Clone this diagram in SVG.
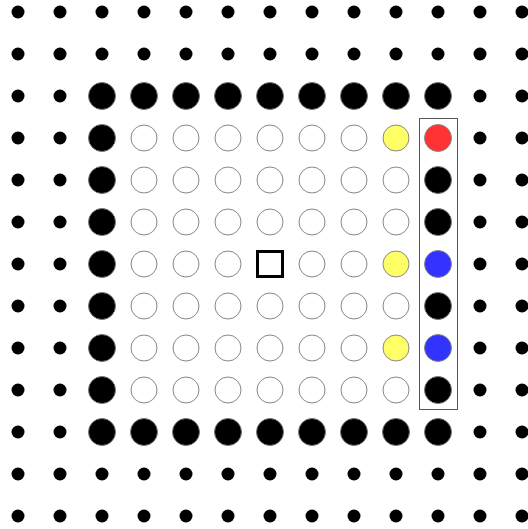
<svg xmlns="http://www.w3.org/2000/svg" width="528" height="529" viewBox="0 0 528 529">
<style>
.s{fill:#000}
.b{fill:#000;stroke:#777;stroke-width:1}
.w{fill:#fff;stroke:#888;stroke-width:1}
.y{fill:#ffff66;stroke:#888;stroke-width:1}
.r{fill:#ff3333;stroke:#888;stroke-width:1}
.u{fill:#3333ff;stroke:#888;stroke-width:1}
</style>
<rect width="528" height="529" fill="#fff"/>
<g id="small-dots">
<circle class="s" cx="18" cy="12" r="6.5"/><circle class="s" cx="60" cy="12" r="6.5"/><circle class="s" cx="102" cy="12" r="6.5"/><circle class="s" cx="144" cy="12" r="6.5"/><circle class="s" cx="186" cy="12" r="6.5"/><circle class="s" cx="228" cy="12" r="6.5"/><circle class="s" cx="270" cy="12" r="6.5"/><circle class="s" cx="312" cy="12" r="6.5"/><circle class="s" cx="354" cy="12" r="6.5"/><circle class="s" cx="396" cy="12" r="6.5"/><circle class="s" cx="438" cy="12" r="6.5"/><circle class="s" cx="480" cy="12" r="6.5"/><circle class="s" cx="522" cy="12" r="6.5"/>
<circle class="s" cx="18" cy="54" r="6.5"/><circle class="s" cx="60" cy="54" r="6.5"/><circle class="s" cx="102" cy="54" r="6.5"/><circle class="s" cx="144" cy="54" r="6.5"/><circle class="s" cx="186" cy="54" r="6.5"/><circle class="s" cx="228" cy="54" r="6.5"/><circle class="s" cx="270" cy="54" r="6.5"/><circle class="s" cx="312" cy="54" r="6.5"/><circle class="s" cx="354" cy="54" r="6.5"/><circle class="s" cx="396" cy="54" r="6.5"/><circle class="s" cx="438" cy="54" r="6.5"/><circle class="s" cx="480" cy="54" r="6.5"/><circle class="s" cx="522" cy="54" r="6.5"/>
<circle class="s" cx="18" cy="474" r="6.5"/><circle class="s" cx="60" cy="474" r="6.5"/><circle class="s" cx="102" cy="474" r="6.5"/><circle class="s" cx="144" cy="474" r="6.5"/><circle class="s" cx="186" cy="474" r="6.5"/><circle class="s" cx="228" cy="474" r="6.5"/><circle class="s" cx="270" cy="474" r="6.5"/><circle class="s" cx="312" cy="474" r="6.5"/><circle class="s" cx="354" cy="474" r="6.5"/><circle class="s" cx="396" cy="474" r="6.5"/><circle class="s" cx="438" cy="474" r="6.5"/><circle class="s" cx="480" cy="474" r="6.5"/><circle class="s" cx="522" cy="474" r="6.5"/>
<circle class="s" cx="18" cy="516" r="6.5"/><circle class="s" cx="60" cy="516" r="6.5"/><circle class="s" cx="102" cy="516" r="6.5"/><circle class="s" cx="144" cy="516" r="6.5"/><circle class="s" cx="186" cy="516" r="6.5"/><circle class="s" cx="228" cy="516" r="6.5"/><circle class="s" cx="270" cy="516" r="6.5"/><circle class="s" cx="312" cy="516" r="6.5"/><circle class="s" cx="354" cy="516" r="6.5"/><circle class="s" cx="396" cy="516" r="6.5"/><circle class="s" cx="438" cy="516" r="6.5"/><circle class="s" cx="480" cy="516" r="6.5"/><circle class="s" cx="522" cy="516" r="6.5"/>
<circle class="s" cx="18" cy="96" r="6.5"/><circle class="s" cx="60" cy="96" r="6.5"/><circle class="s" cx="480" cy="96" r="6.5"/><circle class="s" cx="522" cy="96" r="6.5"/>
<circle class="s" cx="18" cy="138" r="6.5"/><circle class="s" cx="60" cy="138" r="6.5"/><circle class="s" cx="480" cy="138" r="6.5"/><circle class="s" cx="522" cy="138" r="6.5"/>
<circle class="s" cx="18" cy="180" r="6.5"/><circle class="s" cx="60" cy="180" r="6.5"/><circle class="s" cx="480" cy="180" r="6.5"/><circle class="s" cx="522" cy="180" r="6.5"/>
<circle class="s" cx="18" cy="222" r="6.5"/><circle class="s" cx="60" cy="222" r="6.5"/><circle class="s" cx="480" cy="222" r="6.5"/><circle class="s" cx="522" cy="222" r="6.5"/>
<circle class="s" cx="18" cy="264" r="6.5"/><circle class="s" cx="60" cy="264" r="6.5"/><circle class="s" cx="480" cy="264" r="6.5"/><circle class="s" cx="522" cy="264" r="6.5"/>
<circle class="s" cx="18" cy="306" r="6.5"/><circle class="s" cx="60" cy="306" r="6.5"/><circle class="s" cx="480" cy="306" r="6.5"/><circle class="s" cx="522" cy="306" r="6.5"/>
<circle class="s" cx="18" cy="348" r="6.5"/><circle class="s" cx="60" cy="348" r="6.5"/><circle class="s" cx="480" cy="348" r="6.5"/><circle class="s" cx="522" cy="348" r="6.5"/>
<circle class="s" cx="18" cy="390" r="6.5"/><circle class="s" cx="60" cy="390" r="6.5"/><circle class="s" cx="480" cy="390" r="6.5"/><circle class="s" cx="522" cy="390" r="6.5"/>
<circle class="s" cx="18" cy="432" r="6.5"/><circle class="s" cx="60" cy="432" r="6.5"/><circle class="s" cx="480" cy="432" r="6.5"/><circle class="s" cx="522" cy="432" r="6.5"/>
</g>
<g id="border">
<circle class="b" cx="102" cy="96" r="13.5"/><circle class="b" cx="144" cy="96" r="13.5"/><circle class="b" cx="186" cy="96" r="13.5"/><circle class="b" cx="228" cy="96" r="13.5"/><circle class="b" cx="270" cy="96" r="13.5"/><circle class="b" cx="312" cy="96" r="13.5"/><circle class="b" cx="354" cy="96" r="13.5"/><circle class="b" cx="396" cy="96" r="13.5"/><circle class="b" cx="438" cy="96" r="13.5"/>
<circle class="b" cx="102" cy="432" r="13.5"/><circle class="b" cx="144" cy="432" r="13.5"/><circle class="b" cx="186" cy="432" r="13.5"/><circle class="b" cx="228" cy="432" r="13.5"/><circle class="b" cx="270" cy="432" r="13.5"/><circle class="b" cx="312" cy="432" r="13.5"/><circle class="b" cx="354" cy="432" r="13.5"/><circle class="b" cx="396" cy="432" r="13.5"/><circle class="b" cx="438" cy="432" r="13.5"/>
<circle class="b" cx="102" cy="138" r="13.5"/><circle class="b" cx="102" cy="180" r="13.5"/><circle class="b" cx="102" cy="222" r="13.5"/><circle class="b" cx="102" cy="264" r="13.5"/><circle class="b" cx="102" cy="306" r="13.5"/><circle class="b" cx="102" cy="348" r="13.5"/><circle class="b" cx="102" cy="390" r="13.5"/>
</g>
<g id="interior">
<circle class="w" cx="144" cy="138" r="13"/><circle class="w" cx="186" cy="138" r="13"/><circle class="w" cx="228" cy="138" r="13"/><circle class="w" cx="270" cy="138" r="13"/><circle class="w" cx="312" cy="138" r="13"/><circle class="w" cx="354" cy="138" r="13"/><circle class="y" cx="396" cy="138" r="13"/>
<circle class="w" cx="144" cy="180" r="13"/><circle class="w" cx="186" cy="180" r="13"/><circle class="w" cx="228" cy="180" r="13"/><circle class="w" cx="270" cy="180" r="13"/><circle class="w" cx="312" cy="180" r="13"/><circle class="w" cx="354" cy="180" r="13"/><circle class="w" cx="396" cy="180" r="13"/>
<circle class="w" cx="144" cy="222" r="13"/><circle class="w" cx="186" cy="222" r="13"/><circle class="w" cx="228" cy="222" r="13"/><circle class="w" cx="270" cy="222" r="13"/><circle class="w" cx="312" cy="222" r="13"/><circle class="w" cx="354" cy="222" r="13"/><circle class="w" cx="396" cy="222" r="13"/>
<circle class="w" cx="144" cy="264" r="13"/><circle class="w" cx="186" cy="264" r="13"/><circle class="w" cx="228" cy="264" r="13"/><circle class="w" cx="312" cy="264" r="13"/><circle class="w" cx="354" cy="264" r="13"/><circle class="y" cx="396" cy="264" r="13"/>
<circle class="w" cx="144" cy="306" r="13"/><circle class="w" cx="186" cy="306" r="13"/><circle class="w" cx="228" cy="306" r="13"/><circle class="w" cx="270" cy="306" r="13"/><circle class="w" cx="312" cy="306" r="13"/><circle class="w" cx="354" cy="306" r="13"/><circle class="w" cx="396" cy="306" r="13"/>
<circle class="w" cx="144" cy="348" r="13"/><circle class="w" cx="186" cy="348" r="13"/><circle class="w" cx="228" cy="348" r="13"/><circle class="w" cx="270" cy="348" r="13"/><circle class="w" cx="312" cy="348" r="13"/><circle class="w" cx="354" cy="348" r="13"/><circle class="y" cx="396" cy="348" r="13"/>
<circle class="w" cx="144" cy="390" r="13"/><circle class="w" cx="186" cy="390" r="13"/><circle class="w" cx="228" cy="390" r="13"/><circle class="w" cx="270" cy="390" r="13"/><circle class="w" cx="312" cy="390" r="13"/><circle class="w" cx="354" cy="390" r="13"/><circle class="w" cx="396" cy="390" r="13"/>
</g>
<g id="center-square">
<rect x="257.5" y="251.5" width="25" height="25" fill="#fff" stroke="#000" stroke-width="3"/>
</g>
<g id="right-column">
<rect x="419.5" y="118.5" width="38" height="291" fill="none" stroke="#555" stroke-width="1"/>
<circle class="r" cx="438" cy="138" r="13.5"/>
<circle class="b" cx="438" cy="180" r="13.5"/>
<circle class="b" cx="438" cy="222" r="13.5"/>
<circle class="u" cx="438" cy="264" r="13.5"/>
<circle class="b" cx="438" cy="306" r="13.5"/>
<circle class="u" cx="438" cy="348" r="13.5"/>
<circle class="b" cx="438" cy="390" r="13.5"/>
</g>
</svg>
